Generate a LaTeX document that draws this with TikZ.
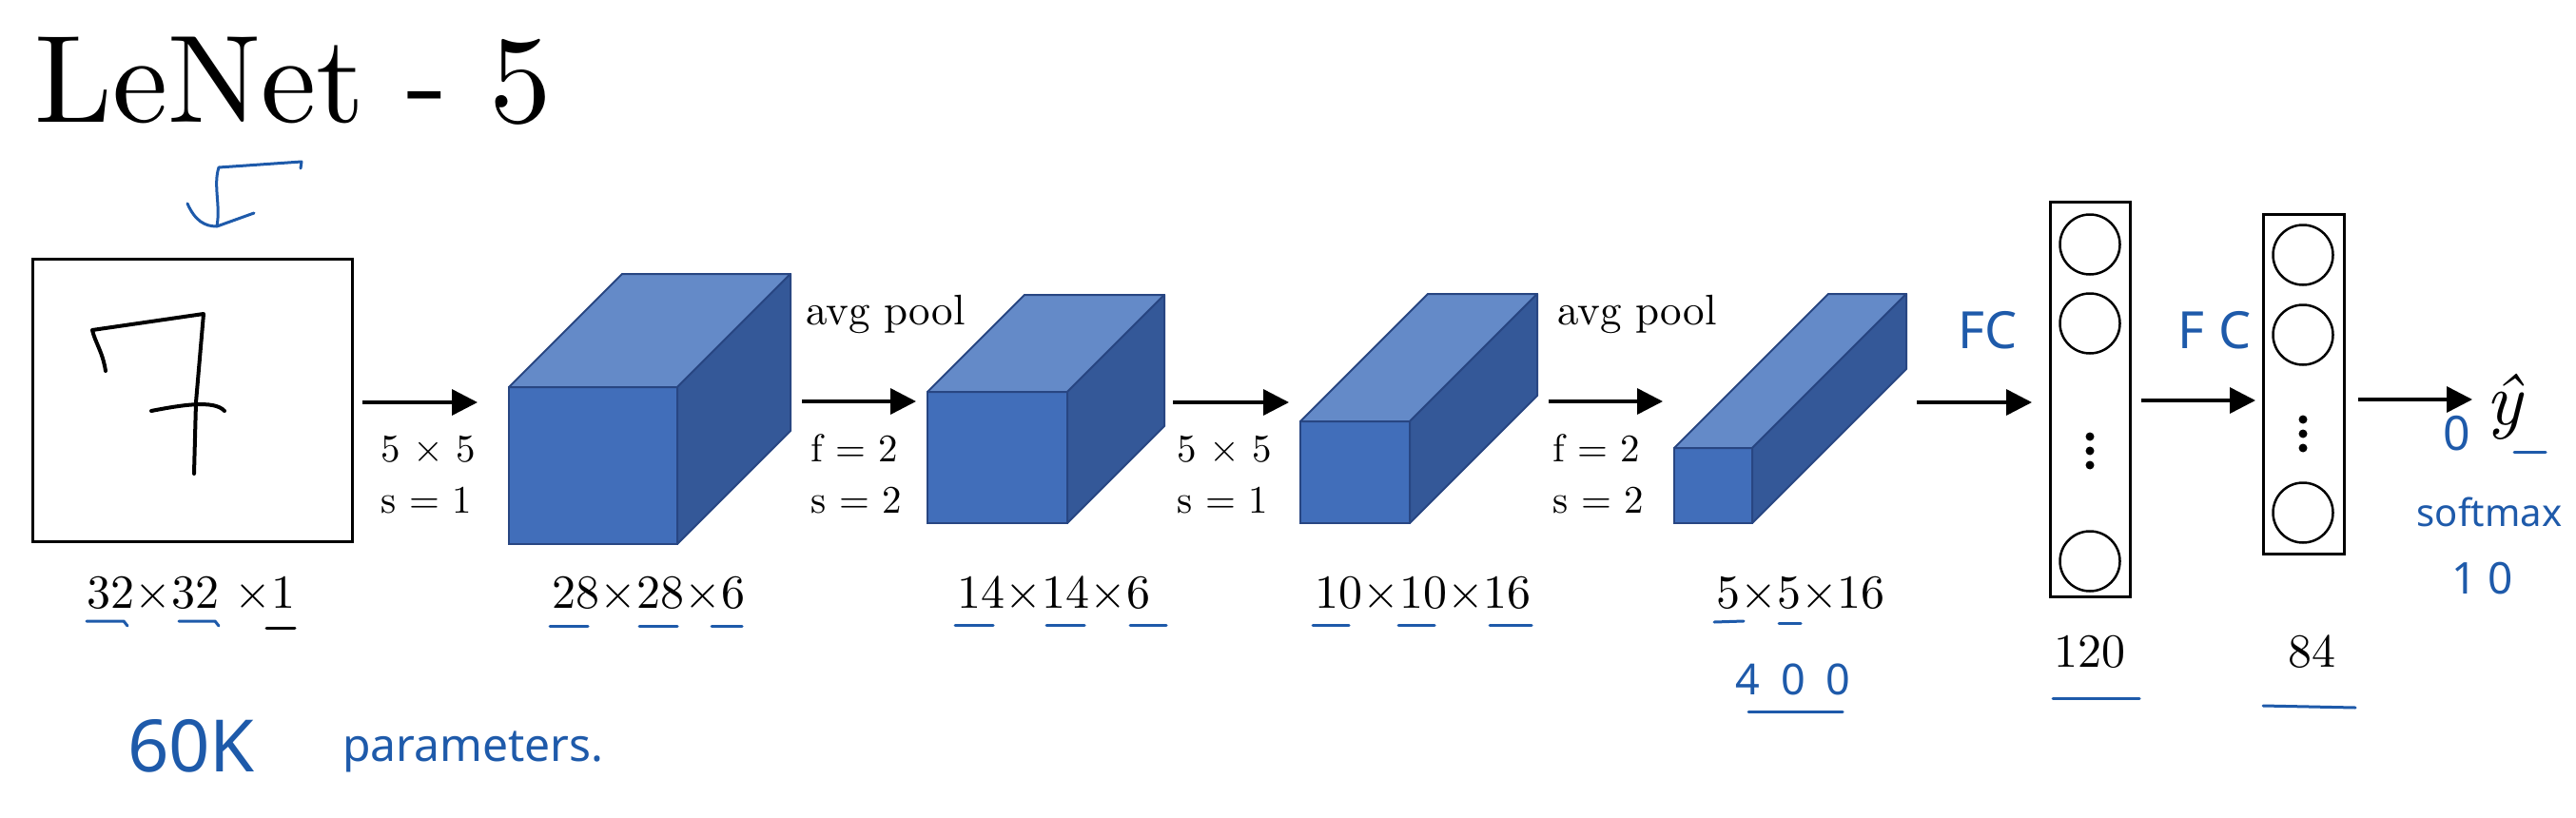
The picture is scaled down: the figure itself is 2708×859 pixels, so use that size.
\documentclass[tikz,border=0pt]{standalone}
\usepackage{fontspec}
\usepackage{graphicx}
\setmainfont{lmroman10-regular}[Extension=.otf]
\newfontfamily\itfont{lmroman10-italic}[Extension=.otf]
\newfontfamily\hand{Noto Sans}
\usetikzlibrary{arrows.meta}
\definecolor{cfront}{RGB}{65,110,186}
\definecolor{ctop}{RGB}{100,138,200}
\definecolor{cside}{RGB}{52,88,152}
\definecolor{cedge}{RGB}{40,70,130}
\definecolor{pen}{RGB}{30,90,170}
\begin{document}
\begin{tikzpicture}[x=1pt,y=-1pt,
  frontface/.style={draw=cedge, line width=2pt, fill=cfront, inner sep=0, outer sep=0, anchor=south west},
  topface/.style={draw=cedge, line width=2pt, fill=ctop, line join=round},
  sideface/.style={draw=cedge, line width=2pt, fill=cside, line join=round},
  arr/.style={line width=3.5pt, -{Triangle[length=27pt,width=27pt]}},
  lbl/.style={font=\fontsize{41}{45}\selectfont, inner sep=0, anchor=base west},
  pool/.style={font=\fontsize{45}{50}\selectfont, inner sep=0, anchor=base west},
  dimlbl/.style={font=\fontsize{50}{55}\selectfont, inner sep=0, anchor=base},
  neuron/.style={circle, draw, line width=2.5pt, minimum size=63pt, inner sep=0},
  dotn/.style={circle, fill, minimum size=9pt, inner sep=0},
  fcbox/.style={draw, line width=3pt, inner sep=0, outer sep=0},
  hw/.style={text=pen, inner sep=0},
  penline/.style={draw=pen, line width=3pt, line cap=round, line join=round},
]
\fill[white] (0,0) rectangle (2708,859);
\useasboundingbox (0,0) rectangle (2708,859);

% title
\node[inner sep=0, anchor=base west, font=\fontsize{131}{140}\selectfont] (title) at (36,128) {LeNet - 5};
\draw[penline] (316,177) -- (317,170) -- (230,176) .. controls (224,195) and (232,215) .. (228,238);
\draw[penline] (197,214) .. controls (205,232) and (215,238) .. (228,238) -- (267,224);

% input image
\node[draw, line width=3pt, minimum width=336pt, minimum height=297pt, inner sep=0] (in) at (202,420.5) {};
\draw[line width=4pt, line cap=round, line join=round] (111,390) .. controls (108,370) and (100,360) .. (97,347) -- (214,330) -- (206,423) -- (204,498);
\draw[line width=4pt, line cap=round] (159,432) .. controls (190,426) and (225,420) .. (236,432);

% cubes
\node[frontface, minimum width=177pt, minimum height=165pt] (c1) at (535,572) {};
\filldraw[topface] (c1.north west) -- ++(119,-119) -- ++(177,0) -- (c1.north east) -- cycle;
\filldraw[sideface] (c1.north east) -- ++(119,-119) -- ++(0,165) -- (c1.south east) -- cycle;

\node[frontface, minimum width=147pt, minimum height=138pt] (c2) at (975,550) {};
\filldraw[topface] (c2.north west) -- ++(102,-102) -- ++(147,0) -- (c2.north east) -- cycle;
\filldraw[sideface] (c2.north east) -- ++(102,-102) -- ++(0,138) -- (c2.south east) -- cycle;

\node[frontface, minimum width=115pt, minimum height=107pt] (c3) at (1367,550) {};
\filldraw[topface] (c3.north west) -- ++(134,-134) -- ++(115,0) -- (c3.north east) -- cycle;
\filldraw[sideface] (c3.north east) -- ++(134,-134) -- ++(0,107) -- (c3.south east) -- cycle;

\node[frontface, minimum width=82pt, minimum height=79pt] (c4) at (1760,550) {};
\filldraw[topface] (c4.north west) -- ++(162,-162) -- ++(82,0) -- (c4.north east) -- cycle;
\filldraw[sideface] (c4.north east) -- ++(162,-162) -- ++(0,79) -- (c4.south east) -- cycle;

% fully connected layers
\node[fcbox, minimum width=84pt, minimum height=415pt] (f1) at (2197,419.5) {};
\node[neuron] (f1a) at (2197,257) {};
\node[neuron] (f1b) at (2197,340) {};
\node[dotn] (f1d1) at (2197,459) {};
\node[dotn] (f1d2) at (2197,474) {};
\node[dotn] (f1d3) at (2197,489) {};
\node[neuron] (f1z) at (2197,590) {};

\node[fcbox, minimum width=85pt, minimum height=357pt] (f2) at (2421.5,403.5) {};
\node[neuron] (f2a) at (2421,268) {};
\node[neuron] (f2b) at (2421,352) {};
\node[dotn] (f2d1) at (2421,441) {};
\node[dotn] (f2d2) at (2421,456) {};
\node[dotn] (f2d3) at (2421,471) {};
\node[neuron] (f2z) at (2421,539) {};

\node[inner sep=0, anchor=base west, font=\itfont\fontsize{78}{80}\selectfont] (yhat) at (2613,446) {ŷ};

% arrow ports
\coordinate (in-o) at (381,423);  \coordinate (c1-i) at (502,423);
\coordinate (c1-o) at (843,422);  \coordinate (c2-i) at (963,422);
\coordinate (c2-o) at (1233,423); \coordinate (c3-i) at (1355,423);
\coordinate (c3-o) at (1628,422); \coordinate (c4-i) at (1748,422);
\coordinate (c4-o) at (2015,423); \coordinate (f1-i) at (2136,423);
\coordinate (f1-o) at (2251,421); \coordinate (f2-i) at (2371,421);
\coordinate (f2-o) at (2479,420); \coordinate (y-i) at (2599,420);

\draw[arr] (in-o) -- (c1-i);
\draw[arr] (c1-o) -- (c2-i);
\draw[arr] (c2-o) -- (c3-i);
\draw[arr] (c3-o) -- (c4-i);
\draw[arr] (c4-o) -- (f1-i);
\draw[arr] (f1-o) -- (f2-i);
\draw[arr] (f2-o) -- (y-i);

% arrow labels
\node[lbl] (k1) at (400,485) {5 × 5};
\node[lbl] (s1) at (400,539) {s = 1};
\node[pool] (p1) at (847,341) {avg pool};
\node[lbl] (k2) at (852,485) {f = 2};
\node[lbl] (s2) at (852,539) {s = 2};
\node[lbl] (k3) at (1237,485) {5 × 5};
\node[lbl] (s3) at (1237,539) {s = 1};
\node[pool] (p2) at (1637,341) {avg pool};
\node[lbl] (k4) at (1632,485) {f = 2};
\node[lbl] (s4) at (1632,539) {s = 2};

% dimension labels
\node[dimlbl] (d0) at (201,639) {32×32 ×1};
\node[dimlbl] (d1) at (682,639) {28×28×6};
\node[dimlbl] (d2) at (1108,639) {14×14×6};
\node[dimlbl] (d3) at (1496,639) {10×10×16};
\node[dimlbl] (d4) at (1893,639) {5×5×16};
\node[dimlbl] (d5) at (2197,701) {120};
\node[dimlbl] (d6) at (2430,701) {84};

% handwritten underlines
\draw[penline] (91,653) -- (130,653) -- (134,658);
\draw[penline] (188,653) -- (226,653) -- (230,658);
\draw[line width=3pt, line cap=round] (280,660) -- (310,660);
\draw[penline] (578,658) -- (618,658);
\draw[penline] (672,658) -- (712,658);
\draw[penline] (748,658) -- (780,658);
\draw[penline] (1004,657) -- (1044,657);
\draw[penline] (1100,657) -- (1140,657);
\draw[penline] (1188,657) -- (1226,657);
\draw[penline] (1380,657) -- (1418,657);
\draw[penline] (1470,657) -- (1508,657);
\draw[penline] (1566,657) -- (1610,657);
\draw[penline] (1802,654) -- (1833,653);
\draw[penline] (1870,655) -- (1893,655);
\draw[penline] (1838,748) -- (1937,748);
\draw[penline] (2158,734) -- (2249,734);
\draw[penline] (2379,742) -- (2476,744);
\draw[penline] (2643,475) -- (2676,475);

% handwritten notes
\node[hw, font=\hand\fontsize{76}{80}\selectfont] (n60k) at (201,784) {60K};
\node[hw, font=\hand\fontsize{48}{50}\selectfont, anchor=base west] (nparam) at (360,800) {parameters.};
\node[hw, font=\hand\fontsize{45}{50}\selectfont] (n400) at (1885,714) {4\hspace{22pt}0\hspace{22pt}0};
\node[hw, font=\hand\fontsize{54}{60}\selectfont] (nfc1) at (2090,347) {FC};
\node[hw, font=\hand\fontsize{54}{60}\selectfont] (nfc2) at (2328,347) {F C};
\node[hw, font=\hand\fontsize{50}{55}\selectfont] (nzero) at (2583,456) {0};
\node[hw, font=\hand\fontsize{40}{45}\selectfont] (nsoft) at (2617,538) {softmax};
\node[hw, font=\hand\fontsize{46}{50}\selectfont] (nten) at (2610,608) {1\hspace{12pt}0};
\end{tikzpicture}
\end{document}
